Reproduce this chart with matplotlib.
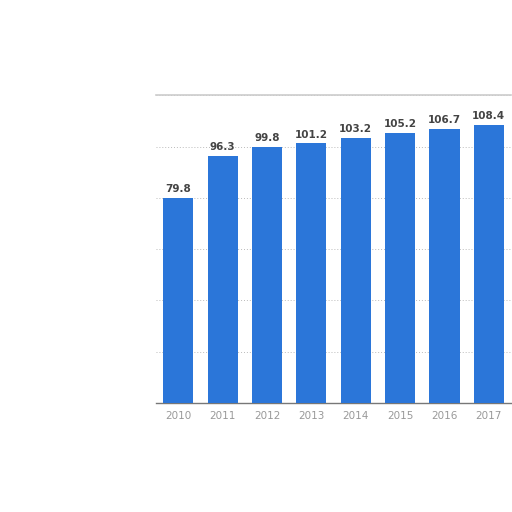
import matplotlib
matplotlib.use("Agg")
import matplotlib.pyplot as plt
import numpy as np

years = ["2010", "2011", "2012", "2013", "2014", "2015", "2016", "2017"]
values = [79.8, 96.3, 99.8, 101.2, 103.2, 105.2, 106.7, 108.4]
yticks = [0, 20, 40, 60, 80, 100, 120]

fig = plt.figure(figsize=(5.12, 5.12), dpi=100)
ax = fig.add_axes([0.305, 0.213, 0.693, 0.601])

x = np.arange(len(years))
ax.bar(x, values, width=0.68, color="#2b76d9", zorder=3)
for xi, v in zip(x, values):
    ax.text(xi, v + 1.5, f"{v:.1f}", ha="center", va="bottom",
            fontsize=7.5, fontweight="bold", color="#444444", zorder=4)

ax.set_xlim(-0.5, len(years) - 0.5)
ax.set_ylim(0, 120)
ax.set_yticks(yticks)
ax.set_yticklabels([])
ax.set_xticks(x)
ax.set_xticklabels(years, fontsize=7.5, color="#999999")
ax.tick_params(axis="both", length=0, pad=6)
ax.grid(axis="y", color="#bbbbbb", linestyle=(0, (1, 2)), linewidth=0.7, zorder=0)
for s in ["left", "right"]:
    ax.spines[s].set_visible(False)
ax.spines["top"].set_color("#cccccc")
ax.spines["top"].set_linewidth(1.2)
ax.spines["bottom"].set_color("#777777")
ax.spines["bottom"].set_linewidth(1.0)

fig.savefig("out.png", dpi=100, facecolor="white")
